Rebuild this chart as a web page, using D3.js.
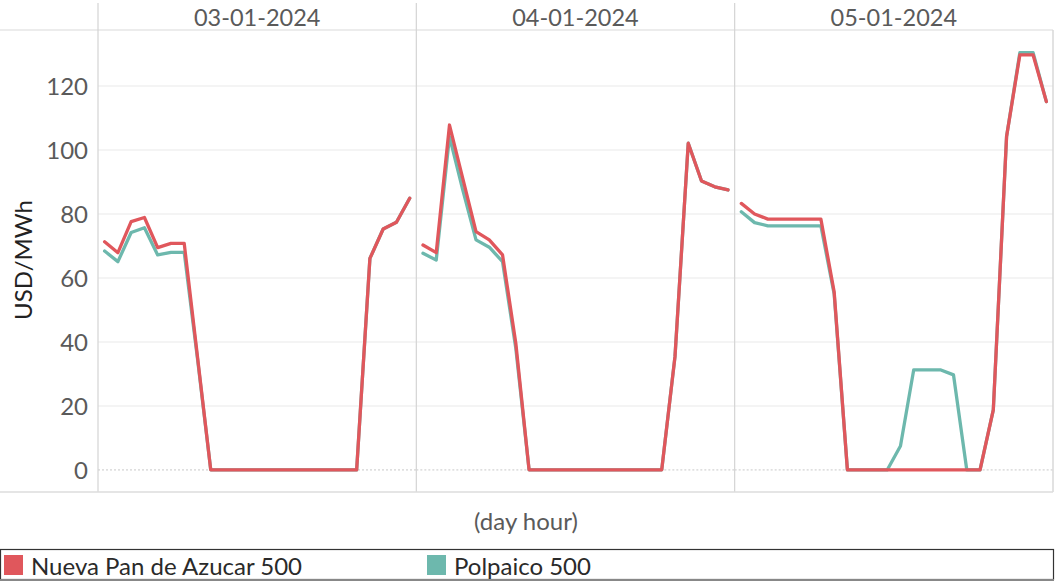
<!DOCTYPE html>
<html><head><meta charset="utf-8">
<script src="https://cdn.jsdelivr.net/npm/d3@7"></script>
<style>
body{margin:0;background:#fff;}
text{font-family:Lato,"Open Sans",sans-serif;}
</style></head>
<body><svg id="chart" width="1059" height="584"></svg>
<script>
const days = ["03-01-2024","04-01-2024","05-01-2024"];
const hours = d3.range(24);
const seriesNames = ["Nueva Pan de Azucar 500","Polpaico 500"];
const yTicks = [0,20,40,60,80,100,120];
// values per day, 24 hours each
const napa = [
  [71.3,67.9,77.6,78.9,69.5,70.8,70.8,35.4,0,0,0,0,0,0,0,0,0,0,0,0,66.1,75.3,77.4,84.9],
  [70.3,67.9,107.8,91.1,74.5,71.9,67.2,39.6,0,0,0,0,0,0,0,0,0,0,0,35.4,102.1,90.3,88.5,87.5],
  [83.3,80.0,78.4,78.4,78.4,78.4,78.4,55.7,0,0,0,0,0,0,0,0,0,0,0,18.8,104.2,129.7,129.7,115.1]
];
const polp = [
  [68.4,65.1,74.2,75.7,67.2,68.0,68.0,34.8,0,0,0,0,0,0,0,0,0,0,0,0,66.1,75.3,77.4,84.9],
  [67.7,65.6,104.2,87.5,71.9,69.6,65.1,38.0,0,0,0,0,0,0,0,0,0,0,0,35.4,102.1,90.3,88.5,87.5],
  [80.7,77.3,76.3,76.3,76.3,76.3,76.3,55.0,0,0,0,0,7.5,31.3,31.3,31.3,29.7,0,0,18.8,104.2,130.4,130.4,115.1]
];
const colors = ["#e0575c","#6db8ad"];

const svg = d3.select("#chart");
const plotL = 98, plotR = 1053, plotT = 30, plotB = 492;
const panelW = (plotR - plotL) / days.length;
const y = d3.scaleLinear().domain([-6.9,137.5]).range([plotB, plotT]);
const xPanel = d3.scaleBand().domain(days).range([plotL, plotR]).padding(0);
const x = d3.scaleLinear().domain([-0.5,23.5]).range([0, panelW]);

// Y axis labels
const yAxis = d3.axisLeft(y).tickValues(yTicks).tickSize(0).tickPadding(10);
const ya = svg.append("g").attr("transform",`translate(${plotL},0)`).call(yAxis);
ya.select(".domain").remove();
ya.selectAll("text").attr("font-size",24).attr("fill","#5a5a5a").attr("font-family","Lato").attr("dy","0.34em");

// header strip
svg.append("line").attr("x1",0).attr("x2",plotR).attr("y1",plotT).attr("y2",plotT)
  .attr("stroke","#e6e6e6").attr("stroke-width",1.5);

days.forEach((d,i)=>{
  const gx = xPanel(d);
  const g = svg.append("g").attr("transform",`translate(${gx},0)`);
  g.selectAll("line.grid").data(yTicks.filter(t=>t!==0)).enter().append("line")
    .attr("x1",0).attr("x2",panelW).attr("y1",t=>y(t)).attr("y2",t=>y(t))
    .attr("stroke","#f0f0f0").attr("stroke-width",1.5);
  g.append("line").attr("x1",0).attr("x2",panelW).attr("y1",y(0)).attr("y2",y(0))
    .attr("stroke","#c8c8c8").attr("stroke-width",1).attr("stroke-dasharray","2,2");
  g.append("text").attr("x",panelW/2).attr("y",26).attr("text-anchor","middle")
    .attr("font-size",23.5).attr("fill","#5a5a5a").text(d);
  const line = d3.line().x((v,j)=>x(hours[j])).y(v=>y(v));
  [polp[i],napa[i]].forEach((vals,k)=>{
    g.append("path").datum(vals).attr("d",line).attr("fill","none")
      .attr("stroke",colors[1-k]).attr("stroke-width",3.3)
      .attr("stroke-linejoin","round").attr("stroke-linecap","round");
  });
});

// panel borders
days.forEach((d,i)=>{
  svg.append("line").attr("x1",xPanel(d)).attr("x2",xPanel(d)).attr("y1",3).attr("y2",plotB)
    .attr("stroke","#d4d4d4").attr("stroke-width",1.2);
});
svg.append("line").attr("x1",plotR).attr("x2",plotR).attr("y1",plotT).attr("y2",plotB)
  .attr("stroke","#d8d8d8").attr("stroke-width",1.5);
svg.append("line").attr("x1",0).attr("x2",plotR).attr("y1",plotB).attr("y2",plotB)
  .attr("stroke","#dcdcdc").attr("stroke-width",1.5);

// axis titles
svg.append("text").attr("transform",`translate(32,260) rotate(-90)`).attr("text-anchor","middle")
  .attr("font-size",24).attr("fill","#222").text("USD/MWh");
svg.append("text").attr("x",526).attr("y",530).attr("text-anchor","middle")
  .attr("font-size",24).attr("fill","#5a5a5a").text("(day hour)");

// legend
const lg = svg.append("g");
lg.append("rect").attr("x",0.5).attr("y",549.5).attr("width",1053).attr("height",30)
  .attr("fill","#fff").attr("stroke","#333").attr("stroke-width",1.2);
lg.append("line").attr("x1",0).attr("x2",1054).attr("y1",580).attr("y2",580).attr("stroke","#888").attr("stroke-width",2);
const legX = [4,427];
seriesNames.forEach((n,k)=>{
  lg.append("rect").attr("x",legX[k]).attr("y",555).attr("width",19).attr("height",20).attr("fill",colors[k]);
  lg.append("text").attr("x",legX[k]+27).attr("y",575).attr("font-size",24).attr("fill","#2a2a2a").text(n);
});
</script></body></html>
